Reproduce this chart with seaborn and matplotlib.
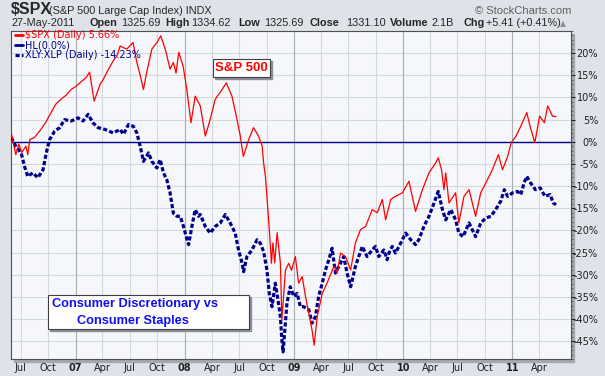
import pandas as pd
import seaborn as sns
import matplotlib.pyplot as plt
from matplotlib.patches import Rectangle
from matplotlib.ticker import MultipleLocator

# $SPX percent change
spx_dates = [
    "2006-05-31", "2006-06-09", "2006-06-15", "2006-06-25", "2006-07-05", "2006-07-19",
    "2006-07-25", "2006-08-01", "2006-08-17", "2006-09-07", "2006-09-24", "2006-10-11",
    "2006-10-27", "2006-11-13", "2006-11-30", "2006-12-17", "2007-01-02", "2007-01-19",
    "2007-02-05", "2007-02-17", "2007-03-04", "2007-03-10", "2007-03-24", "2007-04-03",
    "2007-04-15", "2007-05-06", "2007-05-20", "2007-05-30", "2007-06-21", "2007-07-12",
    "2007-07-25", "2007-08-05", "2007-08-16", "2007-08-27", "2007-09-13", "2007-09-30",
    "2007-10-13", "2007-10-28", "2007-11-13", "2007-11-24", "2007-12-03", "2007-12-12",
    "2007-12-27", "2008-01-08", "2008-01-22", "2008-02-05", "2008-02-22", "2008-03-10",
    "2008-03-26", "2008-04-12", "2008-05-05", "2008-05-19", "2008-06-07", "2008-06-24",
    "2008-07-05", "2008-07-15", "2008-08-02", "2008-08-18", "2008-09-04", "2008-09-16",
    "2008-09-21", "2008-09-27", "2008-10-02", "2008-10-10", "2008-10-17", "2008-10-22",
    "2008-10-28", "2008-11-05", "2008-11-16", "2008-11-21", "2008-12-03", "2008-12-14",
    "2008-12-23", "2009-01-05", "2009-01-16", "2009-01-28", "2009-02-08", "2009-02-19",
    "2009-03-02", "2009-03-09", "2009-03-19", "2009-04-05", "2009-04-21", "2009-05-14",
    "2009-05-25", "2009-06-05", "2009-06-22", "2009-07-09", "2009-07-25", "2009-08-11",
    "2009-08-28", "2009-09-19", "2009-10-06", "2009-10-23", "2009-11-03", "2009-11-20",
    "2009-12-06", "2009-12-29", "2010-01-20", "2010-02-11", "2010-03-06", "2010-03-28",
    "2010-04-19", "2010-04-28", "2010-05-09", "2010-05-17", "2010-05-23", "2010-06-03",
    "2010-06-25", "2010-07-06", "2010-07-23", "2010-08-09", "2010-08-31", "2010-09-17",
    "2010-10-04", "2010-10-26", "2010-11-15", "2010-11-29", "2010-12-16", "2010-12-28",
    "2011-01-13", "2011-01-29", "2011-02-18", "2011-03-01", "2011-03-17", "2011-04-02",
    "2011-04-18", "2011-04-29", "2011-05-15", "2011-05-27",
]
spx_pct = [
    2.0, -1.0, -2.9, -0.5, -2.4, -1.0,
    -2.9, 0.5, 1.0, 2.8, 4.5, 6.6,
    8.5, 9.6, 10.5, 11.8, 12.5, 13.5,
    14.5, 15.7, 9.2, 10.3, 13.0, 14.0,
    15.6, 18.2, 19.5, 21.6, 20.9, 22.4,
    17.9, 15.0, 11.8, 15.7, 20.9, 22.4,
    23.9, 20.9, 16.4, 17.9, 15.5, 20.2,
    17.0, 11.8, 4.3, 10.3, 8.1, 1.3,
    5.0, 9.6, 11.8, 13.3, 10.3, 5.0,
    1.3, -3.3, 0.5, 3.2, 1.3, -1.0,
    -4.8, -7.8, -12.3, -19.8, -27.4, -22.8,
    -27.3, -20.5, -27.3, -40.2, -28.9, -27.4,
    -29.0, -25.9, -31.9, -30.4, -34.9, -38.7,
    -42.5, -45.9, -39.5, -34.2, -31.9, -28.1,
    -29.6, -25.1, -25.9, -28.9, -22.8, -19.8,
    -19.1, -15.3, -16.0, -13.0, -17.6, -13.0,
    -12.3, -11.5, -8.9, -15.7, -10.8, -7.0,
    -4.8, -3.6, -6.3, -10.8, -7.0, -13.8,
    -11.5, -18.3, -12.3, -10.8, -16.8, -11.5,
    -9.3, -6.3, -2.9, -6.3, -3.3, -0.2,
    1.3, 3.5, 6.6, 3.5, -0.2, 5.8,
    4.3, 8.1, 5.8, 5.66,
]

# XLY:XLP ratio percent change
ratio_dates = [
    "2006-05-31", "2006-06-15", "2006-07-03", "2006-07-14", "2006-07-25", "2006-08-11",
    "2006-08-28", "2006-09-14", "2006-09-25", "2006-10-06", "2006-10-23", "2006-11-09",
    "2006-11-25", "2006-12-18", "2007-01-09", "2007-01-26", "2007-02-12", "2007-02-28",
    "2007-03-17", "2007-04-09", "2007-05-07", "2007-05-30", "2007-06-10", "2007-06-27",
    "2007-07-13", "2007-07-25", "2007-08-05", "2007-08-16", "2007-09-02", "2007-09-13",
    "2007-09-30", "2007-10-11", "2007-10-22", "2007-11-02", "2007-11-13", "2007-11-24",
    "2007-12-06", "2007-12-17", "2007-12-28", "2008-01-06", "2008-01-14", "2008-01-25",
    "2008-02-05", "2008-02-16", "2008-02-22", "2008-03-10", "2008-03-26", "2008-04-12",
    "2008-04-29", "2008-05-16", "2008-06-01", "2008-06-18", "2008-06-29", "2008-07-11",
    "2008-07-16", "2008-07-27", "2008-08-13", "2008-08-30", "2008-09-10", "2008-09-21",
    "2008-10-02", "2008-10-10", "2008-10-19", "2008-10-30", "2008-11-08", "2008-11-16",
    "2008-11-21", "2008-11-25", "2008-12-08", "2008-12-19", "2008-12-31", "2009-01-11",
    "2009-01-22", "2009-02-02", "2009-02-19", "2009-03-02", "2009-03-13", "2009-03-24",
    "2009-04-05", "2009-04-16", "2009-04-27", "2009-05-08", "2009-05-19", "2009-06-05",
    "2009-06-16", "2009-06-27", "2009-07-09", "2009-07-25", "2009-08-05", "2009-08-17",
    "2009-09-02", "2009-09-19", "2009-09-30", "2009-10-11", "2009-10-28", "2009-11-08",
    "2009-11-14", "2009-11-25", "2009-12-06", "2009-12-23", "2010-01-09", "2010-01-26",
    "2010-02-11", "2010-02-22", "2010-03-11", "2010-03-28", "2010-04-14", "2010-04-28",
    "2010-05-12", "2010-05-23", "2010-06-09", "2010-06-25", "2010-07-06", "2010-07-20",
    "2010-08-09", "2010-08-31", "2010-09-17", "2010-10-04", "2010-10-21", "2010-11-06",
    "2010-11-23", "2010-12-05", "2010-12-16", "2011-01-02", "2011-01-18", "2011-01-29",
    "2011-02-09", "2011-02-18", "2011-03-03", "2011-03-19", "2011-04-04", "2011-04-20",
    "2011-05-07", "2011-05-18", "2011-05-27",
]
ratio_pct = [
    1.0, -1.0, -2.5, -5.5, -7.8, -7.0,
    -8.1, -6.3, -2.5, 0.5, 2.4, 3.2,
    5.0, 4.7, 5.4, 4.7, 6.2, 4.3,
    3.2, 2.8, 2.0, 2.8, 1.7, 3.9,
    3.5, 2.0, -1.0, -4.4, -2.5, -4.4,
    -5.9, -4.0, -7.0, -8.5, -11.5, -16.1,
    -16.8, -16.8, -19.1, -21.4, -23.2, -19.1,
    -15.3, -16.8, -16.4, -19.1, -20.6, -19.1,
    -18.3, -16.4, -18.3, -20.6, -24.4, -27.4,
    -29.3, -25.9, -24.4, -22.1, -22.9, -24.8,
    -28.9, -34.2, -37.2, -31.9, -35.7, -39.5,
    -44.7, -47.4, -36.4, -32.7, -34.9, -34.2,
    -37.2, -37.2, -37.9, -40.9, -39.5, -34.9,
    -31.9, -28.9, -26.6, -24.0, -29.6, -27.4,
    -25.9, -29.6, -32.7, -28.1, -25.9, -23.6,
    -25.9, -24.4, -23.6, -25.9, -24.4, -26.6,
    -25.1, -23.6, -25.1, -22.9, -20.6, -22.1,
    -23.2, -22.1, -19.1, -16.8, -13.8, -11.2,
    -15.3, -17.6, -15.3, -17.6, -20.6, -21.4,
    -18.3, -21.4, -18.3, -17.2, -16.8, -15.3,
    -13.4, -10.8, -12.3, -11.5, -11.2, -11.9,
    -9.3, -7.8, -9.3, -10.8, -10.4, -12.3,
    -11.9, -13.8, -14.2,
]

y_ticks = [-45, -40, -35, -30, -25, -20, -15, -10, -5, 0, 5, 10, 15, 20]
x_ticks = pd.date_range("2006-07-01", "2011-04-01", freq="QS-JAN")
x_labels = [f"{d.year % 100:02d}" if d.month == 1 else d.strftime("%b") for d in x_ticks]

sns.set_theme(style="white")
plt.rcParams["font.family"] = ["DejaVu Sans"]

W, H = 605, 376
fig = plt.figure(figsize=(6.05, 3.76), dpi=100, facecolor="#dfe2e8")


def fx(x):
    return x / W


def fy(y):
    return 1 - y / H


left, top, right, bottom = 11, 31, 571, 359
ax = fig.add_axes([fx(left), fy(bottom), (right - left) / W, (bottom - top) / H])
ax.set_facecolor("#f5f7fb")

# drop shadow behind the plot box
fig.patches.append(Rectangle((fx(left + 3), fy(bottom + 3)), (right - left) / W, (bottom - top) / H,
                             transform=fig.transFigure, color="#a4a8b0", zorder=-1))

ax.axhline(0, color="#00008b", linewidth=1.0, label="HL(0.0%)", zorder=2)
sns.lineplot(x=pd.to_datetime(ratio_dates), y=ratio_pct, ax=ax, color="#00008b",
             linewidth=2.3, linestyle=(0, (1.3, 0.7)), label="XLY:XLP (Daily) -14.23%", zorder=3)
sns.lineplot(x=pd.to_datetime(spx_dates), y=spx_pct, ax=ax, color="#ff0000",
             linewidth=0.9, label="\\$SPX (Daily) 5.66%", zorder=4)

ax.set_xlim(pd.Timestamp("2006-05-30"), pd.Timestamp("2011-07-16"))
ax.set_ylim(-49, 25)
ax.set_xlabel("")
ax.set_ylabel("")

# grid
ax.set_axisbelow(True)
ax.set_xticks(x_ticks)
ax.set_xticklabels(x_labels)
for lab, d in zip(ax.get_xticklabels(), x_ticks):
    if d.month == 1:
        lab.set_fontweight("bold")
ax.grid(True, color="#d4d8df", linewidth=0.8)
for d in x_ticks[x_ticks.month == 1]:
    ax.axvline(d, color="#a9adb5", linewidth=0.8, zorder=1)

ax.yaxis.tick_right()
ax.set_yticks(y_ticks)
ax.set_yticklabels([f"{v}%" for v in y_ticks])
ax.yaxis.set_minor_locator(MultipleLocator(1))
ax.tick_params(axis="y", which="major", right=True, length=3, width=0.8, pad=16.5,
               labelsize=7, colors="#202020")
ax.tick_params(axis="y", which="minor", right=True, length=1.5, width=0.6, colors="#505050")
for lab in ax.get_yticklabels():
    lab.set_horizontalalignment("right")
ax.tick_params(axis="x", length=0, pad=3, labelsize=7, colors="#202020")
for s in ax.spines.values():
    s.set_color("#505050")
    s.set_linewidth(0.8)

# legend
handles, labels = ax.get_legend_handles_labels()
order = [labels.index(l) for l in ["\\$SPX (Daily) 5.66%", "HL(0.0%)", "XLY:XLP (Daily) -14.23%"]]
leg = ax.legend([handles[i] for i in order], [labels[i] for i in order], loc="upper left",
                bbox_to_anchor=(4 / 560, 1 + 1 / 328), frameon=False, fontsize=7,
                handlelength=0.8, handletextpad=0.25, labelspacing=0.0,
                borderaxespad=0, borderpad=0, labelcolor="linecolor")
for h in leg.get_lines()[:2]:
    h.set_linewidth(2)

# header
fig.text(fx(11), fy(10), "\\$SPX", fontsize=11.5, fontweight="bold", family="Liberation Sans",
         va="center", ha="left")
fig.text(fx(49), fy(10.5), "(S&P 500 Large Cap Index) INDX", fontsize=7.8,
         family="Liberation Sans", va="center", ha="left")
fig.text(fx(571), fy(10.5), "© StockCharts.com", fontsize=8, family="Liberation Sans",
         color="#606060", va="center", ha="right")
row2 = [(11, "27-May-2011", False), (89, "Open", True), (121, "1325.69", False),
        (165, "High", True), (191, "1334.62", False), (238, "Low", True),
        (264, "1325.69", False), (310, "Close", True), (346, "1331.10", False),
        (390, "Volume", True), (431, "2.1B", False), (463, "Chg", True),
        (486, "+5.41 (+0.41%)", False)]
for x, t, b in row2:
    fig.text(fx(x), fy(23.5), t, fontsize=7.8, family="Liberation Sans",
             fontweight="bold" if b else "normal", va="center", ha="left")
fig.text(fx(560), fy(23.5), "▲", fontsize=5.5, color="#8a8e96", va="center", ha="left")

# annotation boxes


def note_box(x0, y0, x1, y1):
    fig.patches.append(Rectangle((fx(x0 + 2), fy(y1 + 2)), (x1 - x0) / W, (y1 - y0) / H,
                                 transform=fig.transFigure, color="#8a8e96", zorder=5))
    fig.patches.append(Rectangle((fx(x0), fy(y1)), (x1 - x0) / W, (y1 - y0) / H,
                                 transform=fig.transFigure, facecolor="white",
                                 edgecolor="#404040", linewidth=0.8, zorder=6))


note_box(213, 59, 270, 77)
fig.text(fx(241.5), fy(68), "S&P 500", fontsize=9.5, fontweight="bold", color="#ff0000",
         family="Liberation Sans", ha="center", va="center", zorder=7)

note_box(48, 295, 249, 329)
fig.text(fx(135), fy(303.5), "Consumer Discretionary vs", fontsize=9.2, fontweight="bold",
         color="#1010ee", family="Liberation Sans", ha="center", va="center", zorder=7)
fig.text(fx(133), fy(321), "Consumer Staples", fontsize=9.2, fontweight="bold",
         color="#1010ee", family="Liberation Sans", ha="center", va="center", zorder=7)

fig.savefig("out.png", dpi=100, facecolor=fig.get_facecolor())
